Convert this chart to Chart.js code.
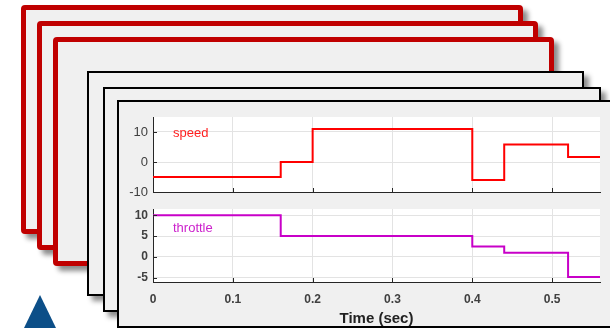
<!DOCTYPE html>
<html>
<head>
<meta charset="utf-8">
<script src="https://cdn.jsdelivr.net/npm/chart.js@4/dist/chart.umd.min.js"></script>
<style>
  body { margin: 0; width: 610px; height: 328px; background: #fff; overflow: hidden; position: relative; font-family: "Liberation Sans", Arial, sans-serif; }
  .card { position: absolute; box-sizing: border-box; background: #f0f0f0; box-shadow: 5px 5px 5px rgba(0,0,0,0.45); }
  .red { border: 5px solid #c00000; border-radius: 4px; }
  .blk { border: 2px solid #000; }
  .tri { position: absolute; left: 24px; top: 295px; width: 32px; height: 33px; background: #0c4f88; clip-path: polygon(50% 0, 100% 100%, 0 100%); }
  .lbl { position: absolute; font-size: 13px; }
  canvas { position: absolute; }
</style>
</head>
<body>
<div class="card red" style="left:21px;top:5px;width:502px;height:229px"></div>
<div class="card red" style="left:37px;top:21px;width:501px;height:229px"></div>
<div class="card red" style="left:53px;top:37px;width:501px;height:229px"></div>
<div class="card blk" style="left:87px;top:71px;width:497px;height:225px"></div>
<div class="card blk" style="left:103px;top:87px;width:498px;height:225px"></div>
<div class="card blk" style="left:117px;top:100px;width:520px;height:228px"></div>
<div class="tri"></div>

<div style="position:absolute;left:120px;top:110px;width:490px;height:86px"><canvas id="speedChart"></canvas></div>
<div style="position:absolute;left:120px;top:202px;width:490px;height:126px"><canvas id="throttleChart"></canvas></div>
<div class="lbl" style="left:173px;top:125px;color:#ff2020">speed</div>
<div class="lbl" style="left:173px;top:220px;color:#cc22cc">throttle</div>

<script>
// sample times (sec) where the signals change
const time = [0, 0.16, 0.2, 0.4, 0.44, 0.52, 0.56];
const speed = [-5, 0, 11, -6, 5.8, 1.7, 1.7];
const throttle = [10, 5, 5, 2.5, 1, -4.8, -4.8];

const xTicks = [0, 0.1, 0.2, 0.3, 0.4, 0.5];
const speedTicks = [-10, 0, 10];
const throttleTicks = [-5, 0, 5, 10];

const gridColor = '#e3e3e3';
const axisColor = '#262626';
const tickColor = '#404040';

// white plot background + inward tick marks like MATLAB
const plotBox = {
    id: 'plotBox',
    beforeDraw(chart) {
        const a = chart.chartArea, ctx = chart.ctx;
        ctx.save();
        ctx.fillStyle = '#fff';
        ctx.fillRect(a.left, a.top, a.right - a.left, a.bottom - a.top);
        ctx.restore();
    },
    afterDraw(chart) {
        const a = chart.chartArea, ctx = chart.ctx;
        ctx.save();
        ctx.strokeStyle = axisColor;
        ctx.lineWidth = 1;
        ctx.beginPath();
        chart.scales.x.ticks.forEach(t => {
            const px = Math.round(chart.scales.x.getPixelForValue(t.value)) + 0.5;
            ctx.moveTo(px, a.bottom);
            ctx.lineTo(px, a.bottom - 4);
        });
        chart.scales.y.ticks.forEach(t => {
            const py = Math.round(chart.scales.y.getPixelForValue(t.value)) + 0.5;
            ctx.moveTo(a.left, py);
            ctx.lineTo(a.left + 4, py);
        });
        ctx.stroke();
        ctx.restore();
    }
};

function makeChart(id, values, color, yMin, yMax, yTicks, showX, yBold) {
    return new Chart(document.getElementById(id), {
        type: 'line',
        data: {
            datasets: [{
                data: time.map((t, i) => ({ x: t, y: values[i] })),
                borderColor: color,
                borderWidth: 2,
                stepped: true,
                pointRadius: 0,
                fill: false
            }]
        },
        options: {
            responsive: true,
            maintainAspectRatio: false,
            animation: false,
            layout: { padding: { top: 7, right: 10, left: 0, bottom: 0 } },
            plugins: { legend: { display: false }, tooltip: { enabled: false } },
            scales: {
                x: {
                    type: 'linear', min: 0, max: 0.56,
                    afterBuildTicks: s => { s.ticks = xTicks.map(v => ({ value: v })); },
                    afterFit: s => {
                        s.height = showX ? 46 : 4;
                        s.paddingLeft = 0; s.paddingRight = 0;
                    },
                    grid: { color: gridColor, tickLength: 0 },
                    border: { color: axisColor, width: 1 },
                    ticks: {
                        display: showX, padding: 10, color: tickColor,
                        font: { family: 'Liberation Sans', size: 12, weight: 'bold' },
                        maxRotation: 0,
                        callback: v => v === 0 ? '0' : v.toFixed(1)
                    },
                    title: {
                        display: showX, text: 'Time (sec)', color: '#222',
                        font: { family: 'Liberation Sans', size: 15, weight: 'bold' },
                        padding: { top: 2, bottom: 0 }
                    }
                },
                y: {
                    min: yMin, max: yMax,
                    afterBuildTicks: s => { s.ticks = yTicks.map(v => ({ value: v })); },
                    afterFit: s => {
                        s.width = 33;
                        s.paddingTop = 0; s.paddingBottom = 0;
                    },
                    grid: { color: gridColor, tickLength: 0 },
                    border: { color: axisColor, width: 1 },
                    ticks: {
                        padding: 5, color: tickColor,
                        font: { family: 'Liberation Sans', size: yBold ? 12 : 13, weight: yBold ? 'bold' : 'normal' }
                    }
                }
            }
        },
        plugins: [plotBox]
    });
}

makeChart('speedChart', speed, '#ff0000', -10, 15, speedTicks, false, false);
makeChart('throttleChart', throttle, '#c800c8', -6, 11.5, throttleTicks, true, true);
</script>
</body>
</html>
